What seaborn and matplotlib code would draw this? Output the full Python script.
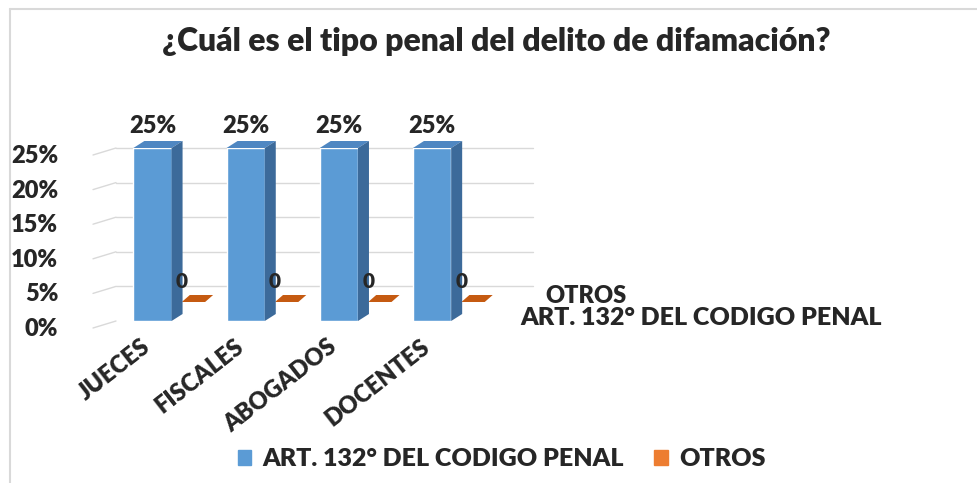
import matplotlib
matplotlib.use("Agg")
import matplotlib.pyplot as plt
import matplotlib.transforms as mtransforms
from matplotlib.patches import Polygon, Patch
from matplotlib.lines import Line2D
import seaborn as sns
import pandas as pd

# data
categorias = ["JUECES", "FISCALES", "ABOGADOS", "DOCENTES"]
art_132 = [0.25, 0.25, 0.25, 0.25]
otros = [0, 0, 0, 0]
series = ["ART. 132° DEL CODIGO PENAL", "OTROS"]
titulo = "¿Cuál es el tipo penal del delito de difamación?"

AZUL = "#5B9BD5"
AZUL_TOP = "#4F87C2"
AZUL_LADO = "#3C6A9A"
NARANJA = "#ED7D31"
NARANJA_TOP = "#C55A11"
GRIS = "#D9D9D9"
PESO = "heavy"

sns.set_style("white")
plt.rcParams["font.family"] = ["Lato", "DejaVu Sans"]
plt.rcParams["font.weight"] = PESO

W, H = 978, 483
fig = plt.figure(figsize=(W / 100, H / 100), dpi=100)
ax = fig.add_axes([93 / W, (H - 321) / H, 440 / W, 173 / H])
ax.set_facecolor("none")
ax.set_zorder(1)

df = pd.DataFrame({"grupo": categorias, "art": art_132, "otros": otros})

# back row (OTROS) first, shifted up/right to fake the depth row
sns.barplot(data=df, x="grupo", y="otros", color=NARANJA, width=0.25,
            saturation=1, ax=ax, zorder=2)
n_back = len(ax.patches)
back_shift = mtransforms.ScaledTranslation(0.41, 0.19, fig.dpi_scale_trans)
for p in ax.patches[:n_back]:
    p.set_transform(ax.transData + back_shift)

sns.barplot(data=df, x="grupo", y="art", color=AZUL, width=0.41,
            saturation=1, ax=ax, zorder=3)

ax.set_xlim(-0.638, 4.083)
ax.set_ylim(0, 0.25)
ax.set_xlabel("")
ax.set_ylabel("")
sns.despine(ax=ax, left=True, bottom=True)
ax.grid(False)

yt = [0, 0.05, 0.10, 0.15, 0.20, 0.25]
ax.set_yticks(yt)
ax.set_yticklabels([f"{int(v * 100)}%" for v in yt], fontsize=17, fontweight=PESO)
ax.tick_params(axis="y", length=0, pad=25)
ax.tick_params(axis="x", length=0, pad=13)
for lbl in ax.get_yticklabels():
    lbl.set_transform(lbl.get_transform() +
                      mtransforms.ScaledTranslation(0, -0.06, fig.dpi_scale_trans))
ax.set_xticks(range(len(categorias)))
ax.set_xticklabels(categorias, rotation=38, ha="right", va="center",
                   rotation_mode="anchor", fontsize=17, fontweight=PESO)
for lbl in ax.get_xticklabels():
    lbl.set_transform(lbl.get_transform() +
                      mtransforms.ScaledTranslation(-0.05, -0.05, fig.dpi_scale_trans))

fig.canvas.draw()
ident = mtransforms.IdentityTransform()

# walls: slanted side-wall lines and back-wall gridlines
x0 = ax.transAxes.transform((0, 0))[0]
x1 = ax.transAxes.transform((1, 0))[0]
for v in yt:
    y = ax.transData.transform((0, v))[1]
    ax.add_artist(Line2D([x0, x0 + 23], [y - 7, y], color=GRIS, lw=1,
                         transform=ident, zorder=0.5, clip_on=False))
    if v > 0:
        ax.add_artist(Line2D([x0 + 23, x1], [y, y], color=GRIS, lw=1,
                             transform=ident, zorder=0.5, clip_on=False))


def caras(patch, dx, dy, trans, c_top, c_side, z):
    x, y = patch.get_x(), patch.get_y()
    w, h = patch.get_width(), patch.get_height()
    (ax_, ay_), (bx_, by_) = trans.transform([(x, y), (x + w, y + h)])
    top = [(ax_, by_), (bx_, by_), (bx_ + dx, by_ + dy), (ax_ + dx, by_ + dy)]
    side = [(bx_, ay_), (bx_, by_), (bx_ + dx, by_ + dy), (bx_ + dx, ay_ + dy)]
    ax.add_artist(Polygon(top, closed=True, fc=c_top, ec="none",
                          transform=ident, zorder=z, clip_on=False))
    if h > 0:
        ax.add_artist(Polygon(side, closed=True, fc=c_side, ec="none",
                              transform=ident, zorder=z, clip_on=False))
    return ax_, bx_, by_


for p in ax.patches[:n_back]:
    lx, rx, ty = caras(p, 8, 7, ax.transData + back_shift, NARANJA_TOP, NARANJA_TOP, 2)
    ax.text(lx, ty + 21, "0", transform=ident, ha="center", va="center",
            fontsize=15, fontweight=PESO, zorder=6, clip_on=False)

for p, v in zip(ax.patches[n_back:], art_132):
    lx, rx, ty = caras(p, 11, 7, ax.transData, AZUL_TOP, AZUL_LADO, 4)
    ax.text((lx + rx) / 2, ty + 22, f"{int(v * 100)}%", transform=ident,
            ha="center", va="center", fontsize=17, fontweight=PESO, zorder=6,
            clip_on=False)

# depth axis labels
fig.text(545 / W, (H - 296) / H, series[1], ha="left", va="center",
         fontsize=17, fontweight=PESO)
fig.text(520 / W, (H - 318) / H, series[0], ha="left", va="center",
         fontsize=18, fontweight=PESO)

fig.suptitle(titulo, x=496 / W, y=(H - 42) / H, va="center",
             fontsize=23, fontweight=PESO)

handles = [Patch(color=AZUL), Patch(color=NARANJA)]
fig.legend(handles, series, loc="center", bbox_to_anchor=(0.513, 24 / H),
           ncol=2, frameon=False, handlelength=0.55,
           handleheight=0.55, handletextpad=0.45, columnspacing=1.2,
           prop={"weight": PESO, "size": 18})

# outer frame (top and left edges)
fig.add_artist(Line2D([10 / W, 1], [1 - 9 / H, 1 - 9 / H], color=GRIS, lw=1.5))
fig.add_artist(Line2D([10 / W, 10 / W], [0, 1 - 9 / H], color=GRIS, lw=1.5))

fig.savefig("out.png", dpi=100)
